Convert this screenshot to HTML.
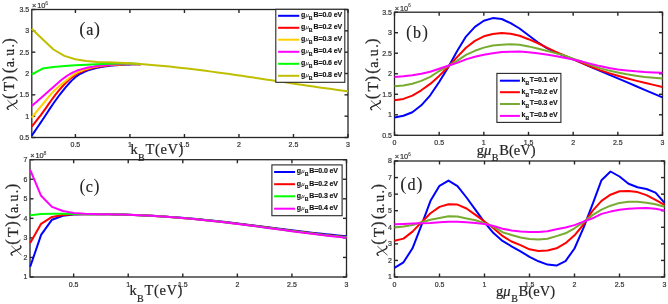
<!DOCTYPE html>
<html><head><meta charset="utf-8"><style>
html,body{margin:0;padding:0;background:#fff;width:668px;height:304px;overflow:hidden}
svg{display:block;will-change:transform}
</style></head><body>
<svg width="668" height="304" viewBox="0 0 668 304">
<rect width="668" height="304" fill="#fff"/>
<g transform="translate(0.3,0.3)">
<g font-family="Liberation Sans, sans-serif" font-size="7" fill="#333" stroke="#333" stroke-width="0.2"><text x="75.11" y="147.20" text-anchor="middle">0.5</text><text x="129.63" y="147.20" text-anchor="middle">1</text><text x="184.15" y="147.20" text-anchor="middle">1.5</text><text x="238.67" y="147.20" text-anchor="middle">2</text><text x="293.18" y="147.20" text-anchor="middle">2.5</text><text x="347.70" y="147.20" text-anchor="middle">3</text><text x="28.90" y="139.70" text-anchor="end">0.5</text><text x="28.90" y="118.37" text-anchor="end">1</text><text x="28.90" y="97.03" text-anchor="end">1.5</text><text x="28.90" y="75.70" text-anchor="end">2</text><text x="28.90" y="54.37" text-anchor="end">2.5</text><text x="28.90" y="33.03" text-anchor="end">3</text><text x="28.90" y="11.70" text-anchor="end">3.5</text><text x="31.80" y="7.60" font-size="7.4">×<tspan dx="0.8">10</tspan><tspan dx="-0.1" dy="-3.4" font-size="5.2" stroke-width="0.05">6</tspan></text></g>
<g font-family="Liberation Sans, sans-serif" font-size="7" fill="#333" stroke="#333" stroke-width="0.2"><text x="394.20" y="145.00" text-anchor="middle">0</text><text x="438.87" y="145.00" text-anchor="middle">0.5</text><text x="483.53" y="145.00" text-anchor="middle">1</text><text x="528.20" y="145.00" text-anchor="middle">1.5</text><text x="572.87" y="145.00" text-anchor="middle">2</text><text x="617.53" y="145.00" text-anchor="middle">2.5</text><text x="662.20" y="145.00" text-anchor="middle">3</text><text x="391.60" y="137.50" text-anchor="end">0.5</text><text x="391.60" y="116.98" text-anchor="end">1</text><text x="391.60" y="96.47" text-anchor="end">1.5</text><text x="391.60" y="75.95" text-anchor="end">2</text><text x="391.60" y="55.43" text-anchor="end">2.5</text><text x="391.60" y="34.92" text-anchor="end">3</text><text x="391.60" y="14.40" text-anchor="end">3.5</text><text x="394.50" y="10.30" font-size="7.4">×<tspan dx="0.8">10</tspan><tspan dx="-0.1" dy="-3.4" font-size="5.2" stroke-width="0.05">6</tspan></text></g>
<g font-family="Liberation Sans, sans-serif" font-size="7" fill="#333" stroke="#333" stroke-width="0.2"><text x="73.36" y="286.70" text-anchor="middle">0.5</text><text x="127.92" y="286.70" text-anchor="middle">1</text><text x="182.49" y="286.70" text-anchor="middle">1.5</text><text x="237.06" y="286.70" text-anchor="middle">2</text><text x="291.63" y="286.70" text-anchor="middle">2.5</text><text x="346.20" y="286.70" text-anchor="middle">3</text><text x="27.10" y="279.20" text-anchor="end">1</text><text x="27.10" y="259.65" text-anchor="end">2</text><text x="27.10" y="240.10" text-anchor="end">3</text><text x="27.10" y="220.55" text-anchor="end">4</text><text x="27.10" y="201.00" text-anchor="end">5</text><text x="27.10" y="181.45" text-anchor="end">6</text><text x="27.10" y="161.90" text-anchor="end">7</text><text x="30.00" y="157.80" font-size="7.4">×<tspan dx="0.8">10</tspan><tspan dx="-0.1" dy="-3.4" font-size="5.2" stroke-width="0.05">8</tspan></text></g>
<g font-family="Liberation Sans, sans-serif" font-size="7" fill="#333" stroke="#333" stroke-width="0.2"><text x="394.20" y="286.70" text-anchor="middle">0</text><text x="439.20" y="286.70" text-anchor="middle">0.5</text><text x="484.20" y="286.70" text-anchor="middle">1</text><text x="529.20" y="286.70" text-anchor="middle">1.5</text><text x="574.20" y="286.70" text-anchor="middle">2</text><text x="619.20" y="286.70" text-anchor="middle">2.5</text><text x="664.20" y="286.70" text-anchor="middle">3</text><text x="391.60" y="279.20" text-anchor="end">1</text><text x="391.60" y="262.63" text-anchor="end">2</text><text x="391.60" y="246.06" text-anchor="end">3</text><text x="391.60" y="229.49" text-anchor="end">4</text><text x="391.60" y="212.91" text-anchor="end">5</text><text x="391.60" y="196.34" text-anchor="end">6</text><text x="391.60" y="179.77" text-anchor="end">7</text><text x="391.60" y="163.20" text-anchor="end">8</text><text x="394.50" y="159.10" font-size="7.4">×<tspan dx="0.8">10</tspan><tspan dx="-0.1" dy="-3.4" font-size="5.2" stroke-width="0.05">6</tspan></text></g>
<g stroke="#262626" stroke-width="1.4"><line x1="75.11" y1="137.2" x2="75.11" y2="133.7"/><line x1="75.11" y1="9.2" x2="75.11" y2="12.7"/><line x1="129.63" y1="137.2" x2="129.63" y2="133.7"/><line x1="129.63" y1="9.2" x2="129.63" y2="12.7"/><line x1="184.15" y1="137.2" x2="184.15" y2="133.7"/><line x1="184.15" y1="9.2" x2="184.15" y2="12.7"/><line x1="238.67" y1="137.2" x2="238.67" y2="133.7"/><line x1="238.67" y1="9.2" x2="238.67" y2="12.7"/><line x1="293.18" y1="137.2" x2="293.18" y2="133.7"/><line x1="293.18" y1="9.2" x2="293.18" y2="12.7"/><line x1="347.70" y1="137.2" x2="347.70" y2="133.7"/><line x1="347.70" y1="9.2" x2="347.70" y2="12.7"/><line x1="31.5" y1="137.20" x2="35.0" y2="137.20"/><line x1="347.7" y1="137.20" x2="344.2" y2="137.20"/><line x1="31.5" y1="115.87" x2="35.0" y2="115.87"/><line x1="347.7" y1="115.87" x2="344.2" y2="115.87"/><line x1="31.5" y1="94.53" x2="35.0" y2="94.53"/><line x1="347.7" y1="94.53" x2="344.2" y2="94.53"/><line x1="31.5" y1="73.20" x2="35.0" y2="73.20"/><line x1="347.7" y1="73.20" x2="344.2" y2="73.20"/><line x1="31.5" y1="51.87" x2="35.0" y2="51.87"/><line x1="347.7" y1="51.87" x2="344.2" y2="51.87"/><line x1="31.5" y1="30.53" x2="35.0" y2="30.53"/><line x1="347.7" y1="30.53" x2="344.2" y2="30.53"/><line x1="31.5" y1="9.20" x2="35.0" y2="9.20"/><line x1="347.7" y1="9.20" x2="344.2" y2="9.20"/></g>
<g stroke="#262626" stroke-width="1.4"><line x1="394.20" y1="135.0" x2="394.20" y2="131.5"/><line x1="394.20" y1="11.9" x2="394.20" y2="15.4"/><line x1="438.87" y1="135.0" x2="438.87" y2="131.5"/><line x1="438.87" y1="11.9" x2="438.87" y2="15.4"/><line x1="483.53" y1="135.0" x2="483.53" y2="131.5"/><line x1="483.53" y1="11.9" x2="483.53" y2="15.4"/><line x1="528.20" y1="135.0" x2="528.20" y2="131.5"/><line x1="528.20" y1="11.9" x2="528.20" y2="15.4"/><line x1="572.87" y1="135.0" x2="572.87" y2="131.5"/><line x1="572.87" y1="11.9" x2="572.87" y2="15.4"/><line x1="617.53" y1="135.0" x2="617.53" y2="131.5"/><line x1="617.53" y1="11.9" x2="617.53" y2="15.4"/><line x1="662.20" y1="135.0" x2="662.20" y2="131.5"/><line x1="662.20" y1="11.9" x2="662.20" y2="15.4"/><line x1="394.2" y1="135.00" x2="397.7" y2="135.00"/><line x1="662.2" y1="135.00" x2="658.7" y2="135.00"/><line x1="394.2" y1="114.48" x2="397.7" y2="114.48"/><line x1="662.2" y1="114.48" x2="658.7" y2="114.48"/><line x1="394.2" y1="93.97" x2="397.7" y2="93.97"/><line x1="662.2" y1="93.97" x2="658.7" y2="93.97"/><line x1="394.2" y1="73.45" x2="397.7" y2="73.45"/><line x1="662.2" y1="73.45" x2="658.7" y2="73.45"/><line x1="394.2" y1="52.93" x2="397.7" y2="52.93"/><line x1="662.2" y1="52.93" x2="658.7" y2="52.93"/><line x1="394.2" y1="32.42" x2="397.7" y2="32.42"/><line x1="662.2" y1="32.42" x2="658.7" y2="32.42"/><line x1="394.2" y1="11.90" x2="397.7" y2="11.90"/><line x1="662.2" y1="11.90" x2="658.7" y2="11.90"/></g>
<g stroke="#262626" stroke-width="1.4"><line x1="73.36" y1="276.7" x2="73.36" y2="273.2"/><line x1="73.36" y1="159.4" x2="73.36" y2="162.9"/><line x1="127.92" y1="276.7" x2="127.92" y2="273.2"/><line x1="127.92" y1="159.4" x2="127.92" y2="162.9"/><line x1="182.49" y1="276.7" x2="182.49" y2="273.2"/><line x1="182.49" y1="159.4" x2="182.49" y2="162.9"/><line x1="237.06" y1="276.7" x2="237.06" y2="273.2"/><line x1="237.06" y1="159.4" x2="237.06" y2="162.9"/><line x1="291.63" y1="276.7" x2="291.63" y2="273.2"/><line x1="291.63" y1="159.4" x2="291.63" y2="162.9"/><line x1="346.20" y1="276.7" x2="346.20" y2="273.2"/><line x1="346.20" y1="159.4" x2="346.20" y2="162.9"/><line x1="29.7" y1="276.70" x2="33.2" y2="276.70"/><line x1="346.2" y1="276.70" x2="342.7" y2="276.70"/><line x1="29.7" y1="257.15" x2="33.2" y2="257.15"/><line x1="346.2" y1="257.15" x2="342.7" y2="257.15"/><line x1="29.7" y1="237.60" x2="33.2" y2="237.60"/><line x1="346.2" y1="237.60" x2="342.7" y2="237.60"/><line x1="29.7" y1="218.05" x2="33.2" y2="218.05"/><line x1="346.2" y1="218.05" x2="342.7" y2="218.05"/><line x1="29.7" y1="198.50" x2="33.2" y2="198.50"/><line x1="346.2" y1="198.50" x2="342.7" y2="198.50"/><line x1="29.7" y1="178.95" x2="33.2" y2="178.95"/><line x1="346.2" y1="178.95" x2="342.7" y2="178.95"/><line x1="29.7" y1="159.40" x2="33.2" y2="159.40"/><line x1="346.2" y1="159.40" x2="342.7" y2="159.40"/></g>
<g stroke="#262626" stroke-width="1.4"><line x1="394.20" y1="276.7" x2="394.20" y2="273.2"/><line x1="394.20" y1="160.7" x2="394.20" y2="164.2"/><line x1="439.20" y1="276.7" x2="439.20" y2="273.2"/><line x1="439.20" y1="160.7" x2="439.20" y2="164.2"/><line x1="484.20" y1="276.7" x2="484.20" y2="273.2"/><line x1="484.20" y1="160.7" x2="484.20" y2="164.2"/><line x1="529.20" y1="276.7" x2="529.20" y2="273.2"/><line x1="529.20" y1="160.7" x2="529.20" y2="164.2"/><line x1="574.20" y1="276.7" x2="574.20" y2="273.2"/><line x1="574.20" y1="160.7" x2="574.20" y2="164.2"/><line x1="619.20" y1="276.7" x2="619.20" y2="273.2"/><line x1="619.20" y1="160.7" x2="619.20" y2="164.2"/><line x1="664.20" y1="276.7" x2="664.20" y2="273.2"/><line x1="664.20" y1="160.7" x2="664.20" y2="164.2"/><line x1="394.2" y1="276.70" x2="397.7" y2="276.70"/><line x1="664.2" y1="276.70" x2="660.7" y2="276.70"/><line x1="394.2" y1="260.13" x2="397.7" y2="260.13"/><line x1="664.2" y1="260.13" x2="660.7" y2="260.13"/><line x1="394.2" y1="243.56" x2="397.7" y2="243.56"/><line x1="664.2" y1="243.56" x2="660.7" y2="243.56"/><line x1="394.2" y1="226.99" x2="397.7" y2="226.99"/><line x1="664.2" y1="226.99" x2="660.7" y2="226.99"/><line x1="394.2" y1="210.41" x2="397.7" y2="210.41"/><line x1="664.2" y1="210.41" x2="660.7" y2="210.41"/><line x1="394.2" y1="193.84" x2="397.7" y2="193.84"/><line x1="664.2" y1="193.84" x2="660.7" y2="193.84"/><line x1="394.2" y1="177.27" x2="397.7" y2="177.27"/><line x1="664.2" y1="177.27" x2="660.7" y2="177.27"/><line x1="394.2" y1="160.70" x2="397.7" y2="160.70"/><line x1="664.2" y1="160.70" x2="660.7" y2="160.70"/></g>
<rect x="31.5" y="9.2" width="316.20" height="128.00" fill="none" stroke="#262626" stroke-width="1.3"/>
<rect x="394.2" y="11.9" width="268.00" height="123.10" fill="none" stroke="#262626" stroke-width="1.3"/>
<rect x="29.7" y="159.4" width="316.50" height="117.30" fill="none" stroke="#262626" stroke-width="1.3"/>
<rect x="394.2" y="160.7" width="270.00" height="116.00" fill="none" stroke="#262626" stroke-width="1.3"/>
<path d="M31.40,135.40 L32.59,133.68 L34.23,131.30 L36.17,128.48 L38.26,125.43 L40.36,122.37 L42.30,119.50 L44.12,116.76 L45.93,113.97 L47.75,111.16 L49.57,108.37 L51.38,105.64 L53.20,103.00 L55.02,100.43 L56.83,97.91 L58.65,95.44 L60.47,93.04 L62.28,90.72 L64.10,88.50 L65.92,86.35 L67.73,84.25 L69.55,82.23 L71.37,80.33 L73.18,78.58 L75.00,77.00 L76.82,75.63 L78.63,74.43 L80.45,73.38 L82.27,72.45 L84.08,71.60 L85.90,70.80 L87.72,70.08 L89.53,69.46 L91.35,68.93 L93.17,68.46 L94.98,68.02 L96.80,67.60 L98.62,67.20 L100.43,66.84 L102.25,66.51 L104.07,66.22 L105.88,65.95 L107.70,65.70 L109.52,65.48 L111.33,65.29 L113.15,65.12 L114.97,64.97 L116.78,64.83 L118.60,64.70 L120.42,64.57 L122.23,64.45 L124.05,64.34 L125.87,64.25 L127.68,64.17 L129.50,64.10 L131.44,64.05 L133.54,64.03 L135.63,64.01 L137.57,64.01 L139.21,64.01 L140.40,64.00" fill="none" stroke="#0000ff" stroke-width="2.0" stroke-linejoin="round" stroke-linecap="butt"/>
<path d="M31.40,126.40 L32.59,124.89 L34.23,122.82 L36.17,120.36 L38.26,117.69 L40.36,114.98 L42.30,112.40 L44.12,109.89 L45.93,107.28 L47.75,104.64 L49.57,102.01 L51.38,99.44 L53.20,97.00 L55.02,94.65 L56.83,92.36 L58.65,90.13 L60.47,87.98 L62.28,85.93 L64.10,84.00 L65.92,82.17 L67.73,80.44 L69.55,78.80 L71.37,77.27 L73.18,75.87 L75.00,74.60 L76.82,73.49 L78.63,72.53 L80.45,71.69 L82.27,70.94 L84.08,70.26 L85.90,69.60 L87.72,68.99 L89.53,68.46 L91.35,67.99 L93.17,67.56 L94.98,67.17 L96.80,66.80 L98.62,66.45 L100.43,66.15 L102.25,65.88 L104.07,65.63 L105.88,65.41 L107.70,65.20 L109.52,65.02 L111.33,64.86 L113.15,64.73 L114.97,64.61 L116.78,64.51 L118.60,64.40 L120.42,64.29 L122.23,64.19 L124.05,64.09 L125.87,64.01 L127.68,63.95 L129.50,63.90 L131.44,63.88 L133.54,63.89 L135.63,63.92 L137.57,63.95 L139.21,63.98 L140.40,64.00" fill="none" stroke="#ff0000" stroke-width="2.0" stroke-linejoin="round" stroke-linecap="butt"/>
<path d="M31.40,117.30 L32.59,115.85 L34.23,113.83 L36.17,111.45 L38.26,108.89 L40.36,106.34 L42.30,104.00 L44.12,101.80 L45.93,99.58 L47.75,97.37 L49.57,95.21 L51.38,93.14 L53.20,91.20 L55.02,89.40 L56.83,87.71 L58.65,86.12 L60.47,84.59 L62.28,83.09 L64.10,81.60 L65.92,80.10 L67.73,78.60 L69.55,77.14 L71.37,75.74 L73.18,74.45 L75.00,73.30 L76.82,72.30 L78.63,71.42 L80.45,70.64 L82.27,69.95 L84.08,69.31 L85.90,68.70 L87.72,68.14 L89.53,67.64 L91.35,67.20 L93.17,66.80 L94.98,66.44 L96.80,66.10 L98.62,65.79 L100.43,65.51 L102.25,65.27 L104.07,65.06 L105.88,64.87 L107.70,64.70 L109.52,64.55 L111.33,64.43 L113.15,64.34 L114.97,64.26 L116.78,64.18 L118.60,64.10 L120.42,64.01 L122.23,63.93 L124.05,63.85 L125.87,63.78 L127.68,63.73 L129.50,63.70 L131.44,63.70 L133.54,63.73 L135.63,63.78 L137.57,63.83 L139.21,63.87 L140.40,63.90" fill="none" stroke="#ffd000" stroke-width="2.0" stroke-linejoin="round" stroke-linecap="butt"/>
<path d="M31.40,105.80 L32.59,104.76 L34.23,103.31 L36.17,101.60 L38.26,99.76 L40.36,97.91 L42.30,96.20 L44.12,94.60 L45.93,92.99 L47.75,91.38 L49.57,89.77 L51.38,88.18 L53.20,86.60 L55.02,85.01 L56.83,83.40 L58.65,81.80 L60.47,80.24 L62.28,78.77 L64.10,77.40 L65.92,76.14 L67.73,74.94 L69.55,73.83 L71.37,72.80 L73.18,71.85 L75.00,71.00 L76.82,70.25 L78.63,69.62 L80.45,69.07 L82.27,68.58 L84.08,68.13 L85.90,67.70 L87.72,67.29 L89.53,66.94 L91.35,66.62 L93.17,66.33 L94.98,66.06 L96.80,65.80 L98.62,65.55 L100.43,65.33 L102.25,65.13 L104.07,64.94 L105.88,64.77 L107.70,64.60 L109.52,64.44 L111.33,64.29 L113.15,64.14 L114.97,64.01 L116.78,63.90 L118.60,63.80 L120.42,63.71 L122.23,63.64 L124.05,63.57 L125.87,63.53 L127.68,63.50 L129.50,63.50 L131.44,63.53 L133.54,63.60 L135.63,63.68 L137.57,63.77 L139.21,63.85 L140.40,63.90" fill="none" stroke="#ff00ff" stroke-width="2.0" stroke-linejoin="round" stroke-linecap="butt"/>
<path d="M31.40,74.00 L42.30,68.30 L53.20,66.80 L64.10,65.70 L75.00,65.00 L85.90,64.40 L96.80,63.90 L107.70,63.50 L118.60,63.20 L129.50,63.30 L140.40,63.80" fill="none" stroke="#00ff00" stroke-width="2.0" stroke-linejoin="round" stroke-linecap="butt"/>
<path d="M31.40,28.40 L42.30,38.90 L53.20,49.20 L64.10,55.60 L75.00,59.00 L85.90,60.80 L96.80,61.70 L107.70,62.00 L118.60,62.50 L129.50,63.00 L140.40,63.70 L151.30,64.63 L157.30,65.16 L163.30,65.72 L169.30,66.32 L175.30,66.95 L181.30,67.61 L187.30,68.30 L193.30,69.02 L199.30,69.76 L205.30,70.53 L211.30,71.32 L217.30,72.13 L223.30,72.95 L229.30,73.80 L235.30,74.66 L241.30,75.53 L247.30,76.41 L253.30,77.29 L259.30,78.19 L265.30,79.09 L271.30,80.00 L277.30,80.90 L283.30,81.81 L289.30,82.71 L295.30,83.61 L301.30,84.50 L307.30,85.39 L313.30,86.26 L319.30,87.12 L325.30,87.97 L331.30,88.81 L337.30,89.62 L343.30,90.42 L347.70,90.99" fill="none" stroke="#bfbf00" stroke-width="2.0" stroke-linejoin="round" stroke-linecap="butt"/>
<path d="M394.20,117.30 L403.13,115.50 L412.07,111.90 L421.00,105.00 L429.93,95.00 L438.87,81.70 L447.80,67.20 L456.73,51.00 L465.67,36.30 L474.60,26.60 L483.53,20.40 L492.47,17.80 L501.40,18.70 L510.33,22.80 L519.27,28.20 L528.20,34.90 L537.13,41.70 L546.07,47.60 L555.00,52.00 L563.93,55.60 L572.87,59.10 L581.80,62.90 L590.73,66.70 L599.67,70.50 L608.60,74.30 L617.53,78.10 L626.47,81.90 L635.40,85.70 L644.33,89.50 L653.27,93.30 L662.20,97.10" fill="none" stroke="#0000ff" stroke-width="2.0" stroke-linejoin="round" stroke-linecap="butt"/>
<path d="M394.20,100.00 L403.13,98.60 L412.07,95.30 L421.00,90.00 L429.93,83.60 L438.87,75.60 L447.80,66.70 L456.73,56.80 L465.67,47.40 L474.60,40.60 L483.53,36.00 L492.47,33.70 L501.40,32.70 L510.33,33.40 L519.27,35.40 L528.20,38.90 L537.13,42.70 L546.07,47.00 L555.00,51.40 L563.93,55.10 L572.87,58.90 L581.80,62.70 L590.73,66.40 L599.67,69.80 L608.60,72.80 L617.53,75.50 L626.47,78.00 L635.40,80.30 L644.33,82.50 L653.27,84.60 L662.20,86.60" fill="none" stroke="#ff0000" stroke-width="2.0" stroke-linejoin="round" stroke-linecap="butt"/>
<path d="M394.20,86.00 L403.13,85.20 L412.07,83.40 L421.00,80.60 L429.93,76.50 L438.87,70.70 L447.80,65.90 L456.73,60.60 L465.67,54.60 L474.60,50.50 L483.53,47.30 L492.47,45.20 L501.40,44.40 L510.33,44.00 L519.27,44.50 L528.20,46.10 L537.13,48.20 L546.07,50.50 L555.00,52.80 L563.93,55.10 L572.87,58.40 L581.80,61.50 L590.73,64.80 L599.67,67.80 L608.60,70.30 L617.53,72.20 L626.47,74.00 L635.40,75.40 L644.33,76.60 L653.27,77.40 L662.20,78.10" fill="none" stroke="#77ac30" stroke-width="2.0" stroke-linejoin="round" stroke-linecap="butt"/>
<path d="M394.20,76.80 L403.13,76.00 L412.07,74.90 L421.00,73.40 L429.93,71.40 L438.87,68.40 L447.80,65.50 L456.73,62.60 L465.67,59.10 L474.60,56.50 L483.53,54.50 L492.47,53.00 L501.40,51.80 L510.33,51.40 L519.27,51.30 L528.20,51.90 L537.13,52.90 L546.07,54.20 L555.00,55.70 L563.93,57.50 L572.87,59.30 L581.80,61.30 L590.73,63.60 L599.67,65.80 L608.60,67.70 L617.53,69.20 L626.47,70.10 L635.40,71.00 L644.33,71.70 L653.27,72.10 L662.20,72.40" fill="none" stroke="#ff00ff" stroke-width="2.0" stroke-linejoin="round" stroke-linecap="butt"/>
<path d="M29.90,266.40 L40.80,234.60 L51.70,219.40 L62.60,215.40 L73.50,214.20 L84.40,213.90 L85.50,213.84 L91.50,213.85 L97.50,213.88 L103.50,213.93 L109.50,214.02 L115.50,214.14 L121.50,214.29 L127.50,214.46 L133.50,214.67 L139.50,214.91 L145.50,215.18 L151.50,215.49 L157.50,215.82 L163.50,216.19 L169.50,216.59 L175.50,217.02 L181.50,217.49 L187.50,217.98 L193.50,218.51 L199.50,219.06 L205.50,219.64 L211.50,220.25 L217.50,220.88 L223.50,221.54 L229.50,222.21 L235.50,222.91 L241.50,223.62 L247.50,224.35 L253.50,225.09 L259.50,225.84 L265.50,226.60 L271.50,227.36 L277.50,228.13 L283.50,228.89 L289.50,229.65 L295.50,230.40 L301.50,231.14 L307.50,231.87 L313.50,232.57 L319.50,233.25 L325.50,233.91 L331.50,234.53 L337.50,235.11 L343.50,235.66 L346.20,235.89" fill="none" stroke="#0000ff" stroke-width="2.0" stroke-linejoin="round" stroke-linecap="butt"/>
<path d="M29.90,242.80 L40.80,223.50 L51.70,216.60 L62.60,214.60 L73.50,214.00 L84.40,213.90 L85.50,213.84 L91.50,213.85 L97.50,213.88 L103.50,213.93 L109.50,214.02 L115.50,214.14 L121.50,214.29 L127.50,214.47 L133.50,214.68 L139.50,214.93 L145.50,215.21 L151.50,215.53 L157.50,215.88 L163.50,216.26 L169.50,216.67 L175.50,217.12 L181.50,217.60 L187.50,218.11 L193.50,218.66 L199.50,219.23 L205.50,219.83 L211.50,220.45 L217.50,221.11 L223.50,221.78 L229.50,222.48 L235.50,223.20 L241.50,223.94 L247.50,224.69 L253.50,225.45 L259.50,226.23 L265.50,227.01 L271.50,227.80 L277.50,228.59 L283.50,229.38 L289.50,230.17 L295.50,230.95 L301.50,231.72 L307.50,232.47 L313.50,233.20 L319.50,233.91 L325.50,234.60 L331.50,235.25 L337.50,235.87 L343.50,236.44 L346.20,236.69" fill="none" stroke="#ff0000" stroke-width="2.0" stroke-linejoin="round" stroke-linecap="butt"/>
<path d="M29.90,214.90 L40.80,213.60 L51.70,213.40 L62.60,213.50 L73.50,213.70 L84.40,213.80 L85.50,213.84 L91.50,213.85 L97.50,213.88 L103.50,213.93 L109.50,214.02 L115.50,214.14 L121.50,214.29 L127.50,214.47 L133.50,214.69 L139.50,214.94 L145.50,215.23 L151.50,215.55 L157.50,215.90 L163.50,216.29 L169.50,216.71 L175.50,217.16 L181.50,217.65 L187.50,218.17 L193.50,218.72 L199.50,219.30 L205.50,219.91 L211.50,220.54 L217.50,221.21 L223.50,221.89 L229.50,222.60 L235.50,223.33 L241.50,224.07 L247.50,224.84 L253.50,225.61 L259.50,226.40 L265.50,227.19 L271.50,227.99 L277.50,228.80 L283.50,229.60 L289.50,230.40 L295.50,231.19 L301.50,231.97 L307.50,232.73 L313.50,233.48 L319.50,234.20 L325.50,234.90 L331.50,235.57 L337.50,236.20 L343.50,236.79 L346.20,237.04" fill="none" stroke="#00ff00" stroke-width="2.0" stroke-linejoin="round" stroke-linecap="butt"/>
<path d="M29.90,169.50 L40.80,195.50 L51.70,206.60 L62.60,210.70 L73.50,212.60 L84.40,213.40 L95.30,213.80 L97.50,213.88 L103.50,213.93 L109.50,214.02 L115.50,214.14 L121.50,214.29 L127.50,214.47 L133.50,214.69 L139.50,214.95 L145.50,215.24 L151.50,215.56 L157.50,215.92 L163.50,216.32 L169.50,216.75 L175.50,217.21 L181.50,217.70 L187.50,218.23 L193.50,218.79 L199.50,219.37 L205.50,219.99 L211.50,220.63 L217.50,221.31 L223.50,222.00 L229.50,222.72 L235.50,223.45 L241.50,224.21 L247.50,224.98 L253.50,225.77 L259.50,226.57 L265.50,227.37 L271.50,228.19 L277.50,229.00 L283.50,229.81 L289.50,230.62 L295.50,231.43 L301.50,232.22 L307.50,233.00 L313.50,233.76 L319.50,234.49 L325.50,235.20 L331.50,235.88 L337.50,236.53 L343.50,237.13 L346.20,237.39" fill="none" stroke="#ff00ff" stroke-width="2.0" stroke-linejoin="round" stroke-linecap="butt"/>
<path d="M394.20,267.60 L403.20,262.00 L412.20,248.00 L421.20,224.80 L430.20,200.50 L439.20,185.50 L448.20,180.30 L457.20,185.80 L466.20,197.20 L475.20,209.60 L484.20,222.00 L493.20,232.80 L502.20,240.60 L511.20,246.00 L520.20,251.00 L529.20,256.50 L538.20,261.00 L547.20,264.30 L556.20,265.30 L565.20,260.80 L574.20,248.20 L583.20,227.50 L592.20,204.00 L601.20,179.90 L610.20,171.20 L619.20,176.20 L628.20,183.50 L637.20,186.90 L646.20,188.70 L655.20,192.30 L664.20,202.50" fill="none" stroke="#0000ff" stroke-width="2.0" stroke-linejoin="round" stroke-linecap="butt"/>
<path d="M394.20,240.50 L403.20,238.30 L412.20,231.30 L421.20,222.00 L430.20,213.00 L439.20,206.60 L448.20,204.00 L457.20,204.30 L466.20,208.20 L475.20,214.60 L484.20,221.20 L493.20,228.00 L502.20,235.60 L511.20,241.20 L520.20,244.80 L529.20,249.00 L538.20,250.70 L547.20,250.20 L556.20,248.00 L565.20,242.90 L574.20,235.00 L583.20,224.20 L592.20,210.60 L601.20,200.50 L610.20,194.40 L619.20,191.00 L628.20,190.60 L637.20,191.80 L646.20,194.80 L655.20,199.50 L664.20,204.50" fill="none" stroke="#ff0000" stroke-width="2.0" stroke-linejoin="round" stroke-linecap="butt"/>
<path d="M394.20,227.20 L403.20,226.20 L412.20,224.80 L421.20,222.00 L430.20,219.50 L439.20,217.80 L448.20,216.00 L457.20,216.30 L466.20,218.20 L475.20,220.00 L484.20,222.90 L493.20,226.50 L502.20,231.90 L511.20,234.70 L520.20,237.20 L529.20,238.80 L538.20,239.20 L547.20,238.50 L556.20,235.80 L565.20,233.00 L574.20,228.00 L583.20,221.80 L592.20,214.80 L601.20,209.40 L610.20,205.40 L619.20,202.60 L628.20,201.50 L637.20,201.40 L646.20,202.40 L655.20,204.00 L664.20,206.40" fill="none" stroke="#77ac30" stroke-width="2.0" stroke-linejoin="round" stroke-linecap="butt"/>
<path d="M394.20,223.90 L403.20,223.60 L412.20,223.30 L421.20,223.00 L430.20,222.60 L439.20,222.00 L448.20,221.50 L457.20,221.50 L466.20,222.00 L475.20,222.60 L484.20,223.80 L493.20,225.70 L502.20,228.40 L511.20,230.10 L520.20,231.10 L529.20,231.60 L538.20,231.70 L547.20,231.00 L556.20,229.00 L565.20,227.20 L574.20,224.80 L583.20,221.30 L592.20,218.00 L601.20,213.60 L610.20,211.30 L619.20,209.40 L628.20,208.50 L637.20,207.90 L646.20,207.80 L655.20,208.40 L664.20,210.20" fill="none" stroke="#ff00ff" stroke-width="2.0" stroke-linejoin="round" stroke-linecap="butt"/>
<rect x="275.5" y="9.0" width="69.00" height="73.00" fill="#fff" stroke="#262626" stroke-width="1.1"/><line x1="277.8" y1="15.5" x2="299.0" y2="15.5" stroke="#0000ff" stroke-width="2"/><text x="300.6" y="17.00" font-family="Liberation Sans, sans-serif" font-size="7" font-weight="bold" fill="#111" stroke="#111" stroke-width="0.15">g<tspan font-family="Liberation Serif, serif" font-style="italic" font-weight="normal" font-size="6.8" stroke-width="0" dx="0.2">μ</tspan><tspan dy="3.0" font-size="5.2">B</tspan><tspan dy="-3.0" dx="0.9" letter-spacing="-0.1">B=0.0 eV</tspan></text><line x1="277.8" y1="27.5" x2="299.0" y2="27.5" stroke="#ff0000" stroke-width="2"/><text x="300.6" y="29.00" font-family="Liberation Sans, sans-serif" font-size="7" font-weight="bold" fill="#111" stroke="#111" stroke-width="0.15">g<tspan font-family="Liberation Serif, serif" font-style="italic" font-weight="normal" font-size="6.8" stroke-width="0" dx="0.2">μ</tspan><tspan dy="3.0" font-size="5.2">B</tspan><tspan dy="-3.0" dx="0.9" letter-spacing="-0.1">B=0.2 eV</tspan></text><line x1="277.8" y1="39.4" x2="299.0" y2="39.4" stroke="#ffd000" stroke-width="2"/><text x="300.6" y="40.90" font-family="Liberation Sans, sans-serif" font-size="7" font-weight="bold" fill="#111" stroke="#111" stroke-width="0.15">g<tspan font-family="Liberation Serif, serif" font-style="italic" font-weight="normal" font-size="6.8" stroke-width="0" dx="0.2">μ</tspan><tspan dy="3.0" font-size="5.2">B</tspan><tspan dy="-3.0" dx="0.9" letter-spacing="-0.1">B=0.3 eV</tspan></text><line x1="277.8" y1="51.5" x2="299.0" y2="51.5" stroke="#ff00ff" stroke-width="2"/><text x="300.6" y="53.00" font-family="Liberation Sans, sans-serif" font-size="7" font-weight="bold" fill="#111" stroke="#111" stroke-width="0.15">g<tspan font-family="Liberation Serif, serif" font-style="italic" font-weight="normal" font-size="6.8" stroke-width="0" dx="0.2">μ</tspan><tspan dy="3.0" font-size="5.2">B</tspan><tspan dy="-3.0" dx="0.9" letter-spacing="-0.1">B=0.4 eV</tspan></text><line x1="277.8" y1="63.5" x2="299.0" y2="63.5" stroke="#00ff00" stroke-width="2"/><text x="300.6" y="65.00" font-family="Liberation Sans, sans-serif" font-size="7" font-weight="bold" fill="#111" stroke="#111" stroke-width="0.15">g<tspan font-family="Liberation Serif, serif" font-style="italic" font-weight="normal" font-size="6.8" stroke-width="0" dx="0.2">μ</tspan><tspan dy="3.0" font-size="5.2">B</tspan><tspan dy="-3.0" dx="0.9" letter-spacing="-0.1">B=0.6 eV</tspan></text><line x1="277.8" y1="75.5" x2="299.0" y2="75.5" stroke="#bfbf00" stroke-width="2"/><text x="300.6" y="77.00" font-family="Liberation Sans, sans-serif" font-size="7" font-weight="bold" fill="#111" stroke="#111" stroke-width="0.15">g<tspan font-family="Liberation Serif, serif" font-style="italic" font-weight="normal" font-size="6.8" stroke-width="0" dx="0.2">μ</tspan><tspan dy="3.0" font-size="5.2">B</tspan><tspan dy="-3.0" dx="0.9" letter-spacing="-0.1">B=0.8 eV</tspan></text>
<rect x="496.6" y="73.1" width="64.00" height="49.00" fill="#fff" stroke="#262626" stroke-width="1.1"/><line x1="499.6" y1="80.4" x2="519.6" y2="80.4" stroke="#0000ff" stroke-width="2"/><text x="521.2" y="81.90" font-family="Liberation Sans, sans-serif" font-size="7" font-weight="bold" fill="#111" stroke="#111" stroke-width="0.15">k<tspan dy="3.0" font-size="5.2">B</tspan><tspan dy="-3.0" dx="0.6" letter-spacing="-0.1">T=0.1 eV</tspan></text><line x1="499.6" y1="91.9" x2="519.6" y2="91.9" stroke="#ff0000" stroke-width="2"/><text x="521.2" y="93.40" font-family="Liberation Sans, sans-serif" font-size="7" font-weight="bold" fill="#111" stroke="#111" stroke-width="0.15">k<tspan dy="3.0" font-size="5.2">B</tspan><tspan dy="-3.0" dx="0.6" letter-spacing="-0.1">T=0.2 eV</tspan></text><line x1="499.6" y1="103.7" x2="519.6" y2="103.7" stroke="#77ac30" stroke-width="2"/><text x="521.2" y="105.20" font-family="Liberation Sans, sans-serif" font-size="7" font-weight="bold" fill="#111" stroke="#111" stroke-width="0.15">k<tspan dy="3.0" font-size="5.2">B</tspan><tspan dy="-3.0" dx="0.6" letter-spacing="-0.1">T=0.3 eV</tspan></text><line x1="499.6" y1="115.6" x2="519.6" y2="115.6" stroke="#ff00ff" stroke-width="2"/><text x="521.2" y="117.10" font-family="Liberation Sans, sans-serif" font-size="7" font-weight="bold" fill="#111" stroke="#111" stroke-width="0.15">k<tspan dy="3.0" font-size="5.2">B</tspan><tspan dy="-3.0" dx="0.6" letter-spacing="-0.1">T=0.5 eV</tspan></text>
<rect x="271.6" y="164.6" width="70.20" height="50.80" fill="#fff" stroke="#262626" stroke-width="1.1"/><line x1="273.8" y1="171.7" x2="294.8" y2="171.7" stroke="#0000ff" stroke-width="2"/><text x="296.5" y="173.20" font-family="Liberation Sans, sans-serif" font-size="7" font-weight="bold" fill="#111" stroke="#111" stroke-width="0.15">g<tspan font-family="Liberation Serif, serif" font-style="italic" font-weight="normal" font-size="6.8" stroke-width="0" dx="0.2">μ</tspan><tspan dy="3.0" font-size="5.2">B</tspan><tspan dy="-3.0" dx="0.9" letter-spacing="-0.1">B=0.0 eV</tspan></text><line x1="273.8" y1="183.9" x2="294.8" y2="183.9" stroke="#ff0000" stroke-width="2"/><text x="296.5" y="185.40" font-family="Liberation Sans, sans-serif" font-size="7" font-weight="bold" fill="#111" stroke="#111" stroke-width="0.15">g<tspan font-family="Liberation Serif, serif" font-style="italic" font-weight="normal" font-size="6.8" stroke-width="0" dx="0.2">μ</tspan><tspan dy="3.0" font-size="5.2">B</tspan><tspan dy="-3.0" dx="0.9" letter-spacing="-0.1">B=0.2 eV</tspan></text><line x1="273.8" y1="196.0" x2="294.8" y2="196.0" stroke="#00ff00" stroke-width="2"/><text x="296.5" y="197.50" font-family="Liberation Sans, sans-serif" font-size="7" font-weight="bold" fill="#111" stroke="#111" stroke-width="0.15">g<tspan font-family="Liberation Serif, serif" font-style="italic" font-weight="normal" font-size="6.8" stroke-width="0" dx="0.2">μ</tspan><tspan dy="3.0" font-size="5.2">B</tspan><tspan dy="-3.0" dx="0.9" letter-spacing="-0.1">B=0.3 eV</tspan></text><line x1="273.8" y1="208.4" x2="294.8" y2="208.4" stroke="#ff00ff" stroke-width="2"/><text x="296.5" y="209.90" font-family="Liberation Sans, sans-serif" font-size="7" font-weight="bold" fill="#111" stroke="#111" stroke-width="0.15">g<tspan font-family="Liberation Serif, serif" font-style="italic" font-weight="normal" font-size="6.8" stroke-width="0" dx="0.2">μ</tspan><tspan dy="3.0" font-size="5.2">B</tspan><tspan dy="-3.0" dx="0.9" letter-spacing="-0.1">B=0.4 eV</tspan></text>
<text x="79.07" y="35.2" font-family="Liberation Serif, serif" font-size="18.87" fill="#262626" >(</text><text x="93.46" y="35.2" font-family="Liberation Serif, serif" font-size="18.87" fill="#262626" >)</text><text x="89.4" y="35.0" font-family="Liberation Serif, serif" font-size="16" fill="#262626" stroke="#262626" stroke-width="0.2" text-anchor="middle">a</text>
<text x="405.8" y="38.14" font-family="Liberation Serif, serif" font-size="18.21" fill="#262626" >(</text><text x="421.65" y="38.14" font-family="Liberation Serif, serif" font-size="18.21" fill="#262626" >)</text><text x="416.75" y="37.5" font-family="Liberation Serif, serif" font-size="16" fill="#262626" stroke="#262626" stroke-width="0.2" text-anchor="middle">b</text>
<text x="79.1" y="192.06" font-family="Liberation Serif, serif" font-size="18.1" fill="#262626" >(</text><text x="93.09" y="192.06" font-family="Liberation Serif, serif" font-size="18.1" fill="#262626" >)</text><text x="89.1" y="192.1" font-family="Liberation Serif, serif" font-size="16" fill="#262626" stroke="#262626" stroke-width="0.2" text-anchor="middle">c</text>
<text x="400.07" y="189.9" font-family="Liberation Serif, serif" font-size="18.87" fill="#262626" >(</text><text x="415.86" y="189.9" font-family="Liberation Serif, serif" font-size="18.87" fill="#262626" >)</text><text x="411.1" y="190.0" font-family="Liberation Serif, serif" font-size="16" fill="#262626" stroke="#262626" stroke-width="0.2" text-anchor="middle">d</text>
<text x="130.2" y="153.8" font-family="Liberation Serif, serif" font-size="14.5" fill="#262626" stroke="#262626" stroke-width="0.2" >k<tspan dy="6.6" font-size="10" dx="0.3">B</tspan><tspan dy="-6.6" dx="0.8" letter-spacing="0.6">T(eV)</tspan></text>
<text x="129.2" y="295.0" font-family="Liberation Serif, serif" font-size="14.5" fill="#262626" stroke="#262626" stroke-width="0.2" >k<tspan dy="6.6" font-size="10" dx="0.3">B</tspan><tspan dy="-6.6" dx="0.8" letter-spacing="0.6">T(eV)</tspan></text>
<text x="476.4" y="154.6" font-family="Liberation Serif, serif" font-size="14.5" fill="#262626" stroke="#262626" stroke-width="0.2" >g<tspan font-style="italic">μ</tspan><tspan dy="6.6" font-size="10" dx="0.5">B</tspan><tspan dy="-6.6" dx="0.8" letter-spacing="0.05">B(eV)</tspan></text>
<text x="495.8" y="295.4" font-family="Liberation Serif, serif" font-size="14.5" fill="#262626" stroke="#262626" stroke-width="0.2" >g<tspan font-style="italic">μ</tspan><tspan dy="6.6" font-size="10" dx="0.5">B</tspan><tspan dy="-6.6" dx="0.8" letter-spacing="0.05">B(eV)</tspan></text>
<g transform="translate(13.8,0) rotate(-90)" font-family="Liberation Serif, serif" fill="#262626" stroke="#262626" stroke-width="0.25" text-anchor="middle"><text x="-95.90" y="-0.60" font-size="16.5">(</text><text x="-86.20" y="0.00" font-size="15.5">T</text><text x="-78.10" y="-0.60" font-size="16.5">)</text><text x="-70.30" y="-0.60" font-size="16.5">(</text><text x="-64.00" y="0.00" font-size="13.8">a</text><text x="-59.00" y="0.00" font-size="13.8">.</text><text x="-52.10" y="0.00" font-size="13.8">u</text><text x="-45.50" y="0.00" font-size="13.8">.</text><text x="-40.60" y="-0.60" font-size="16.5">)</text><g transform="translate(-104.50,0)" fill="none" stroke="#262626" stroke-linecap="round"><path d="M4.4,-6.4 L-4.3,3.2" stroke-width="0.75"/><path d="M-4.6,-5.8 C-3.8,-7.2 -2.6,-7.4 -1.8,-5.8 L1.4,1.0 C2.1,2.7 3.2,3.4 4.6,2.5" stroke-width="1.35"/></g></g>
<g transform="translate(377.2,0) rotate(-90)" font-family="Liberation Serif, serif" fill="#262626" stroke="#262626" stroke-width="0.25" text-anchor="middle"><text x="-96.20" y="-0.60" font-size="16.5">(</text><text x="-86.50" y="0.00" font-size="15.5">T</text><text x="-78.40" y="-0.60" font-size="16.5">)</text><text x="-70.60" y="-0.60" font-size="16.5">(</text><text x="-64.30" y="0.00" font-size="13.8">a</text><text x="-59.30" y="0.00" font-size="13.8">.</text><text x="-52.40" y="0.00" font-size="13.8">u</text><text x="-45.80" y="0.00" font-size="13.8">.</text><text x="-40.90" y="-0.60" font-size="16.5">)</text><g transform="translate(-104.80,0)" fill="none" stroke="#262626" stroke-linecap="round"><path d="M4.4,-6.4 L-4.3,3.2" stroke-width="0.75"/><path d="M-4.6,-5.8 C-3.8,-7.2 -2.6,-7.4 -1.8,-5.8 L1.4,1.0 C2.1,2.7 3.2,3.4 4.6,2.5" stroke-width="1.35"/></g></g>
<g transform="translate(17.7,0) rotate(-90)" font-family="Liberation Serif, serif" fill="#262626" stroke="#262626" stroke-width="0.25" text-anchor="middle"><text x="-241.60" y="-0.60" font-size="16.5">(</text><text x="-231.90" y="0.00" font-size="15.5">T</text><text x="-223.80" y="-0.60" font-size="16.5">)</text><text x="-216.00" y="-0.60" font-size="16.5">(</text><text x="-209.70" y="0.00" font-size="13.8">a</text><text x="-204.70" y="0.00" font-size="13.8">.</text><text x="-197.80" y="0.00" font-size="13.8">u</text><text x="-191.20" y="0.00" font-size="13.8">.</text><text x="-186.30" y="-0.60" font-size="16.5">)</text><g transform="translate(-250.20,0)" fill="none" stroke="#262626" stroke-linecap="round"><path d="M4.4,-6.4 L-4.3,3.2" stroke-width="0.75"/><path d="M-4.6,-5.8 C-3.8,-7.2 -2.6,-7.4 -1.8,-5.8 L1.4,1.0 C2.1,2.7 3.2,3.4 4.6,2.5" stroke-width="1.35"/></g></g>
<g transform="translate(383.7,0) rotate(-90)" font-family="Liberation Serif, serif" fill="#262626" stroke="#262626" stroke-width="0.25" text-anchor="middle"><text x="-241.80" y="-0.60" font-size="16.5">(</text><text x="-232.10" y="0.00" font-size="15.5">T</text><text x="-224.00" y="-0.60" font-size="16.5">)</text><text x="-216.20" y="-0.60" font-size="16.5">(</text><text x="-209.90" y="0.00" font-size="13.8">a</text><text x="-204.90" y="0.00" font-size="13.8">.</text><text x="-198.00" y="0.00" font-size="13.8">u</text><text x="-191.40" y="0.00" font-size="13.8">.</text><text x="-186.50" y="-0.60" font-size="16.5">)</text><g transform="translate(-250.40,0)" fill="none" stroke="#262626" stroke-linecap="round"><path d="M4.4,-6.4 L-4.3,3.2" stroke-width="0.75"/><path d="M-4.6,-5.8 C-3.8,-7.2 -2.6,-7.4 -1.8,-5.8 L1.4,1.0 C2.1,2.7 3.2,3.4 4.6,2.5" stroke-width="1.35"/></g></g>
</g>
</svg>
</body></html>
